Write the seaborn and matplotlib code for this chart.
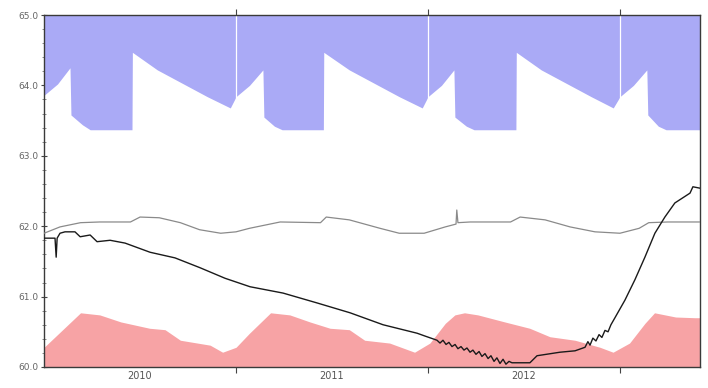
import numpy as np
import pandas as pd
import matplotlib
matplotlib.use("Agg")
import matplotlib.pyplot as plt
import seaborn as sns

# ---- data (x in decimal years, y in level units) ----
blue_x = [2010.0, 2010.07, 2010.135, 2010.14, 2010.20, 2010.24, 2010.458, 2010.46, 2010.59, 2010.85, 2010.97,
          2011.0, 2011.07, 2011.14, 2011.145, 2011.20, 2011.24, 2011.455, 2011.457, 2011.59, 2011.85, 2011.97,
          2012.0, 2012.07, 2012.135, 2012.14, 2012.20, 2012.24, 2012.458, 2012.46, 2012.59, 2012.85, 2012.965,
          2013.0, 2013.07, 2013.14, 2013.145, 2013.20, 2013.24, 2013.417]
blue_y = [63.86, 64.02, 64.25, 63.58, 63.44, 63.37, 63.37, 64.47, 64.22, 63.84, 63.68,
          63.84, 64.0, 64.22, 63.55, 63.42, 63.37, 63.37, 64.47, 64.22, 63.84, 63.68,
          63.84, 64.0, 64.22, 63.55, 63.42, 63.37, 63.37, 64.47, 64.22, 63.84, 63.68,
          63.84, 64.0, 64.22, 63.58, 63.42, 63.37, 63.37]

red_x = [2010.0, 2010.19, 2010.29, 2010.40, 2010.55, 2010.63, 2010.71, 2010.865, 2010.93,
         2011.0, 2011.07, 2011.18, 2011.28, 2011.385, 2011.49, 2011.59, 2011.67, 2011.80, 2011.93,
         2012.01, 2012.09, 2012.14, 2012.19, 2012.26, 2012.40, 2012.53, 2012.635, 2012.766, 2012.896, 2012.964,
         2013.05, 2013.13, 2013.18, 2013.29, 2013.39, 2013.417]
red_y = [60.28, 60.77, 60.74, 60.64, 60.55, 60.53, 60.38, 60.31, 60.21,
         60.28, 60.48, 60.77, 60.74, 60.64, 60.55, 60.53, 60.38, 60.34, 60.21,
         60.34, 60.62, 60.74, 60.77, 60.74, 60.64, 60.55, 60.43, 60.38, 60.28, 60.21,
         60.34, 60.62, 60.77, 60.71, 60.70, 60.70]

gray_x = [2010.0, 2010.083, 2010.19, 2010.29, 2010.45, 2010.50, 2010.60, 2010.71, 2010.81, 2010.92,
          2011.0, 2011.07, 2011.23, 2011.44, 2011.47, 2011.59, 2011.75, 2011.85, 2011.98,
          2012.09, 2012.146, 2012.15, 2012.156, 2012.22, 2012.43, 2012.48, 2012.61, 2012.74, 2012.87,
          2013.0, 2013.10, 2013.15, 2013.25, 2013.417]
gray_y = [61.90, 61.99, 62.05, 62.06, 62.06, 62.13, 62.12, 62.05, 61.95, 61.90,
          61.92, 61.97, 62.06, 62.05, 62.13, 62.09, 61.97, 61.90, 61.90,
          61.99, 62.03, 62.23, 62.05, 62.06, 62.06, 62.13, 62.09, 61.99, 61.92,
          61.90, 61.97, 62.05, 62.06, 62.06]

black_x = [2010.0, 2010.031, 2010.057, 2010.063, 2010.068, 2010.083, 2010.109, 2010.161, 2010.188, 2010.240,
           2010.276, 2010.344, 2010.422, 2010.552, 2010.682, 2010.8125, 2010.943, 2011.073, 2011.245,
           2011.422, 2011.594, 2011.766, 2011.943, 2011.984, 2012.047, 2012.0625, 2012.078, 2012.094,
           2012.109, 2012.125, 2012.141, 2012.156, 2012.172, 2012.1875, 2012.203, 2012.219, 2012.234,
           2012.25, 2012.266, 2012.281, 2012.297, 2012.313, 2012.328, 2012.344, 2012.359, 2012.375,
           2012.391, 2012.406, 2012.422, 2012.4375, 2012.531, 2012.568, 2012.6875, 2012.766, 2012.818,
           2012.833, 2012.844, 2012.859, 2012.875, 2012.891, 2012.906, 2012.922, 2012.938, 2012.953,
           2012.974, 2013.026, 2013.078, 2013.130, 2013.182, 2013.234, 2013.286, 2013.365, 2013.380, 2013.417]
black_y = [61.83, 61.83, 61.83, 61.56, 61.83, 61.90, 61.92, 61.92, 61.85, 61.875,
           61.78, 61.80, 61.76, 61.63, 61.55, 61.41, 61.26, 61.14, 61.05,
           60.91, 60.77, 60.60, 60.48, 60.44, 60.38, 60.34, 60.38, 60.32,
           60.35, 60.29, 60.32, 60.26, 60.29, 60.24, 60.27, 60.21, 60.24,
           60.18, 60.22, 60.15, 60.19, 60.12, 60.16, 60.08, 60.13, 60.05,
           60.11, 60.04, 60.08, 60.06, 60.06, 60.16, 60.21, 60.23, 60.28,
           60.36, 60.31, 60.41, 60.37, 60.46, 60.42, 60.52, 60.50, 60.60,
           60.70, 60.95, 61.24, 61.56, 61.90, 62.13, 62.33, 62.47, 62.56, 62.54]

year_ticks = [2011, 2012, 2013]
year_label_pos = [2010.5, 2011.5, 2012.5]
year_labels = ["2010", "2011", "2012"]
y_ticks = [60.0, 61.0, 62.0, 63.0, 64.0, 65.0]

# ---- plotting ----
sns.set_theme(style="white")
plt.rcParams["font.family"] = ["DejaVu Sans"]

fig = plt.figure(figsize=(7.08, 3.88), dpi=100)
ax = fig.add_axes([43.5 / 708, 21 / 388, (700 - 43.5) / 708, (367 - 15) / 388])

xmin, xmax = 2009.997, 2013.417
ymin, ymax = 60.0, 65.0

ax.fill_between(blue_x, blue_y, ymax, color="#aaaaf6", linewidth=0, zorder=1)
ax.fill_between(red_x, ymin, red_y, color="#f7a3a5", linewidth=0, zorder=1)

for yt in year_ticks:
    ax.axvline(yt, ymin=(63.3 - ymin) / (ymax - ymin), ymax=1, color="white", lw=0.9, zorder=2)

df_gray = pd.DataFrame({"x": gray_x, "y": gray_y})
df_black = pd.DataFrame({"x": black_x, "y": black_y})
sns.lineplot(data=df_gray, x="x", y="y", ax=ax, color="#8a8a8a", lw=0.9,
             estimator=None, sort=False, zorder=3)
sns.lineplot(data=df_black, x="x", y="y", ax=ax, color="#1a1a1a", lw=1.0,
             estimator=None, sort=False, zorder=4)

ax.set_xlim(xmin, xmax)
ax.set_ylim(ymin, ymax)
ax.set_xlabel("")
ax.set_ylabel("")

ax.set_xticks(year_ticks)
ax.set_xticklabels([])
ax.set_xticks(year_label_pos, minor=True)
ax.set_xticklabels(year_labels, minor=True)
ax.tick_params(axis="x", which="major", direction="out", length=4, width=0.8, color="#444444",
               top=True, bottom=True)
ax.tick_params(axis="x", which="minor", length=0, labelsize=7, labelcolor="#555555", pad=3)

ax.set_yticks(y_ticks)
ax.set_yticklabels([f"{v:.1f}" for v in y_ticks])
ax.set_yticks(np.arange(60.0, 65.01, 0.2), minor=True)
ax.tick_params(axis="y", which="major", direction="inout", length=5, width=0.8, color="#444444",
               labelsize=6.5, labelcolor="#666666", pad=1, left=True)
ax.tick_params(axis="y", which="minor", direction="inout", length=3, width=0.6, color="#777777", left=True)

for side in ["left", "bottom", "top", "right"]:
    ax.spines[side].set_visible(True)
    ax.spines[side].set_color("#3a3a3a")
    ax.spines[side].set_linewidth(1.0)
ax.grid(False)

fig.savefig("out.png", dpi=100)
